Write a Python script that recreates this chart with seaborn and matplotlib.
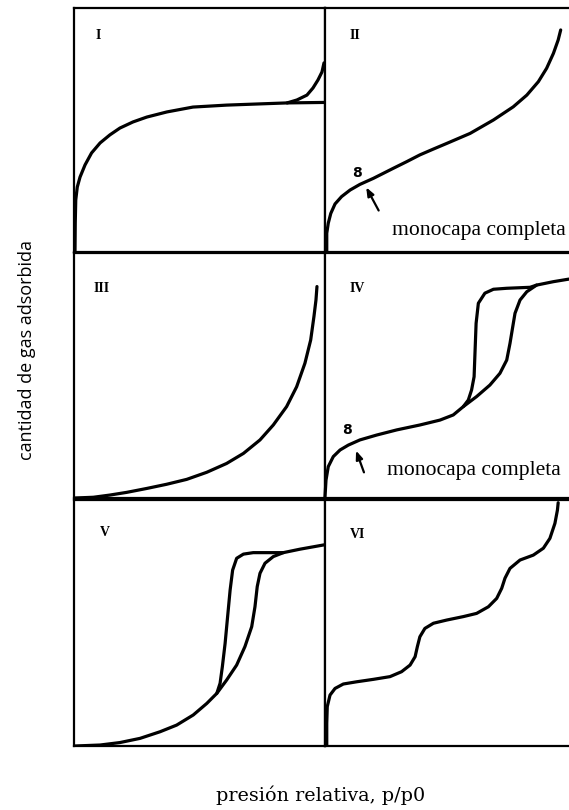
import matplotlib
matplotlib.use("Agg")
import matplotlib.pyplot as plt
import seaborn as sns
import pandas as pd

sns.set_style("white")
plt.rcParams['font.family'] = ['Liberation Serif', 'DejaVu Serif']
plt.rcParams['text.color'] = 'black'

# ---- data (x = p/p0, y = relative amount adsorbed) ----
# Type I (adsorption with upturn, plus flat plateau branch)
i_x = [0.004, 0.005, 0.007, 0.013, 0.024, 0.044, 0.070, 0.104, 0.143, 0.183, 0.235, 0.290, 0.370,
       0.474, 0.608, 0.741, 0.849, 0.888, 0.928, 0.952, 0.972, 0.988, 0.996]
i_y = [0.000, 0.120, 0.213, 0.266, 0.307, 0.357, 0.406, 0.447, 0.480, 0.508, 0.533, 0.553, 0.574,
       0.594, 0.602, 0.607, 0.611, 0.623, 0.643, 0.672, 0.705, 0.738, 0.775]
i_lo_x = [0.849, 1.0]
i_lo_y = [0.611, 0.613]
# Type II
ii_x = [0.007, 0.007, 0.013, 0.023, 0.040, 0.066, 0.100, 0.139, 0.193, 0.272, 0.325, 0.378, 0.432,
        0.485, 0.578, 0.671, 0.750, 0.804, 0.850, 0.883, 0.910, 0.929, 0.939]
ii_y = [0.000, 0.077, 0.118, 0.158, 0.197, 0.227, 0.254, 0.277, 0.302, 0.343, 0.370, 0.398, 0.422,
        0.445, 0.486, 0.541, 0.595, 0.643, 0.698, 0.753, 0.814, 0.869, 0.910]
# Type III
iii_x = [0.004, 0.077, 0.143, 0.210, 0.290, 0.369, 0.449, 0.529, 0.608, 0.675, 0.741, 0.794, 0.847,
         0.887, 0.920, 0.943, 0.956, 0.964, 0.968]
iii_y = [0.000, 0.003, 0.012, 0.023, 0.039, 0.056, 0.076, 0.105, 0.141, 0.182, 0.237, 0.298, 0.373,
         0.454, 0.550, 0.645, 0.741, 0.808, 0.863]
# Type IV (adsorption, desorption)
iv_x = [0.000, 0.004, 0.013, 0.033, 0.060, 0.093, 0.139, 0.206, 0.286, 0.378, 0.458, 0.511, 0.551,
        0.604, 0.657, 0.697, 0.724, 0.737, 0.748, 0.757, 0.777, 0.804, 0.843, 0.910, 0.969, 1.02]
iv_y = [0.005, 0.073, 0.128, 0.169, 0.196, 0.216, 0.237, 0.257, 0.278, 0.298, 0.318, 0.339, 0.373,
        0.414, 0.461, 0.509, 0.563, 0.631, 0.699, 0.754, 0.808, 0.842, 0.869, 0.883, 0.893, 0.900]
iv_d_x = [0.843, 0.817, 0.724, 0.671, 0.637, 0.611, 0.602, 0.598, 0.594, 0.584, 0.571, 0.551]
iv_d_y = [0.869, 0.860, 0.856, 0.852, 0.836, 0.795, 0.713, 0.604, 0.495, 0.441, 0.400, 0.373]
# Type V (adsorption, desorption)
v_x = [0.004, 0.104, 0.183, 0.263, 0.343, 0.409, 0.475, 0.529, 0.569, 0.608, 0.648, 0.681, 0.708,
       0.721, 0.730, 0.741, 0.761, 0.794, 0.834, 0.900, 0.993, 1.0]
v_y = [0.000, 0.004, 0.014, 0.031, 0.058, 0.085, 0.126, 0.173, 0.214, 0.268, 0.329, 0.404, 0.485,
       0.566, 0.648, 0.702, 0.743, 0.770, 0.786, 0.800, 0.817, 0.818]
v_d_x = [0.834, 0.808, 0.714, 0.675, 0.648, 0.632, 0.622, 0.612, 0.602, 0.591, 0.582, 0.569]
v_d_y = [0.786, 0.786, 0.786, 0.780, 0.763, 0.715, 0.634, 0.526, 0.417, 0.322, 0.255, 0.214]
# Type VI
vi_x = [0.007, 0.007, 0.009, 0.020, 0.040, 0.073, 0.126, 0.193, 0.259, 0.305, 0.339, 0.359, 0.368,
        0.378, 0.398, 0.432, 0.485, 0.551, 0.604, 0.651, 0.684, 0.704, 0.717, 0.737, 0.777, 0.830,
        0.870, 0.896, 0.916, 0.926, 0.929]
vi_y = [0.004, 0.092, 0.160, 0.207, 0.234, 0.252, 0.261, 0.271, 0.282, 0.302, 0.329, 0.363, 0.404,
        0.444, 0.478, 0.499, 0.512, 0.526, 0.539, 0.566, 0.600, 0.641, 0.682, 0.722, 0.756, 0.776,
        0.804, 0.844, 0.905, 0.959, 0.989]

numerals = ["I", "II", "III", "IV", "V", "VI"]
numeral_pos = [(0.096, 0.889), (0.12, 0.889), (0.11, 0.857), (0.13, 0.857), (0.124, 0.866), (0.13, 0.858)]
mono_label = "monocapa completa"
x_label = "presión relativa, p/p0"
y_label = "cantidad de gas adsorbida"

curves = [
    [(i_x, i_y), (i_lo_x, i_lo_y)],
    [(ii_x, ii_y)],
    [(iii_x, iii_y)],
    [(iv_x, iv_y), (iv_d_x, iv_d_y)],
    [(v_x, v_y), (v_d_x, v_d_y)],
    [(vi_x, vi_y)],
]

W, H = 569, 810
fig = plt.figure(figsize=(W / 100, H / 100), dpi=100)

col_left = [74 / W, 325 / W]
col_w = 251 / W
rows = [(8, 252), (253, 498), (500, 746)]

axes = []
for k in range(6):
    r, c = divmod(k, 2)
    top, bot = rows[r]
    ax = fig.add_axes([col_left[c], 1 - bot / H, col_w, (bot - top) / H])
    ax.set_xlim(0, 1)
    ax.set_ylim(0, 1)
    ax.set_xticks([])
    ax.set_yticks([])
    for sp in ax.spines.values():
        sp.set_color("black")
        sp.set_linewidth(1.6)
    for cx, cy in curves[k]:
        df = pd.DataFrame({"x": cx, "y": cy})
        sns.lineplot(data=df, x="x", y="y", sort=False, estimator=None,
                     color="black", lw=2.3, ax=ax, clip_on=(c == 0))
    ax.set_xlabel("")
    ax.set_ylabel("")
    for ln in ax.get_lines():
        ln.set_solid_joinstyle("round")
        ln.set_solid_capstyle("round")
    nx, ny = numeral_pos[k]
    ax.text(nx, ny, numerals[k], fontsize=10, fontweight="bold", ha="center", va="center",
            color="black", family=["Liberation Serif"])
    axes.append(ax)

# annotations in panels II and IV
for ax, (px, py), (tx, ty), (hx, hy), (mx, my) in [
    (axes[1], (0.128, 0.324), (0.219, 0.160), (0.159, 0.275), (0.267, 0.09)),
    (axes[3], (0.088, 0.278), (0.159, 0.094), (0.120, 0.204), (0.247, 0.114)),
]:
    ax.text(px, py, "8", fontsize=10, fontweight="bold", ha="center", va="center",
            color="black", family=["DejaVu Sans"])
    ax.annotate("", xy=(hx, hy), xytext=(tx, ty),
                arrowprops=dict(arrowstyle="-|>,head_length=0.5,head_width=0.2", color="black", lw=1.6))
    ax.text(mx, my, mono_label, fontsize=15.6, ha="left", va="center", color="black",
            family=["Liberation Serif"])

fig.text(321 / W, 1 - 795 / H, x_label, fontsize=13.8, ha="center", va="center",
         color="black", family=["DejaVu Serif"])
fig.text(27 / W, 1 - 350 / H, y_label, fontsize=13, ha="center", va="center", rotation=90,
         color="black", family=["Open Sans", "DejaVu Sans"])

fig.savefig("out.png", dpi=100)
